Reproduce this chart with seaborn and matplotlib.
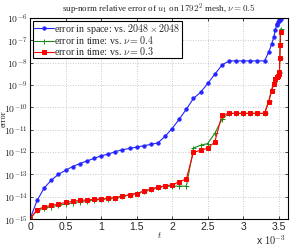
import numpy as np
import pandas as pd
import matplotlib
matplotlib.use("Agg")
import matplotlib.pyplot as plt
import seaborn as sns
from matplotlib.ticker import FixedLocator, NullLocator

# time in units of 1e-3
t = [0.0, 0.1, 0.2, 0.3, 0.4, 0.5, 0.6, 0.7, 0.8, 0.9, 1.0, 1.1, 1.2, 1.3, 1.4,
     1.5, 1.6, 1.7, 1.8, 1.9, 2.0, 2.1, 2.2, 2.3, 2.4, 2.5, 2.6, 2.7, 2.8, 2.9,
     3.0, 3.1, 3.2, 3.3, 3.36, 3.40, 3.43, 3.45, 3.47, 3.48, 3.49, 3.50, 3.51,
     3.515, 3.52, 3.525]

# log10 of errors
space_log10 = [-15.0, -14.17, -13.61, -13.26, -13.0, -12.82, -12.65, -12.52, -12.40,
               -12.29, -12.17, -12.10, -11.98, -11.90, -11.84, -11.78, -11.72, -11.66,
               -11.59, -11.30, -10.95, -10.53, -10.08, -9.60, -9.33, -8.93, -8.52,
               -8.11, -7.92, -7.92, -7.92, -7.92, -7.92, -7.92, -7.52, -7.17, -6.85,
               -6.55, -6.31, -6.25, -6.18, -6.13, -6.09, -6.07, -6.05, -6.04]
time04_log10 = [-15.0, -14.60, -14.52, -14.45, -14.39, -14.33, -14.28, -14.22, -14.19,
                -14.15, -14.12, -14.09, -14.05, -13.99, -13.92, -13.85, -13.76, -13.66,
                -13.58, -13.53, -13.53, -13.53, -13.53, -11.82, -11.70, -11.62, -11.17,
                -10.53, -10.27, -10.27, -10.27, -10.27, -10.27, -10.27, -9.70, -9.20,
                -8.85, -8.65, -8.60, -8.57, -8.53, -8.48, -8.40, -7.80, -7.10, -6.49]
time03_log10 = [-15.0, -14.58, -14.46, -14.39, -14.33, -14.26, -14.21, -14.17, -14.15,
                -14.12, -14.10, -14.07, -14.04, -13.98, -13.91, -13.86, -13.76, -13.67,
                -13.58, -13.52, -13.47, -13.34, -13.20, -12.02, -11.92, -11.83, -11.55,
                -10.35, -10.27, -10.27, -10.27, -10.27, -10.27, -10.27, -9.75, -9.25,
                -8.95, -8.72, -8.65, -8.62, -8.58, -8.52, -8.42, -7.80, -7.20, -6.61]

labels = [r"error in space: vs. $2048\times2048$",
          r"error in time: vs. $\nu=0.4$",
          r"error in time: vs. $\nu=0.3$"]
colors = ["#2424ff", "#1a8a1a", "#ff0000"]
markers = ["o", "+", "s"]
msizes = [2.4, 3.6, 2.2]

xticks = [0, 0.5, 1, 1.5, 2, 2.5, 3, 3.5]
xticklabels = ["0", "0.5", "1", "1.5", "2", "2.5", "3", "3.5"]
yexps = list(range(-15, -5))

sns.set_style("ticks")
plt.rcParams["mathtext.fontset"] = "cm"

fig = plt.figure(figsize=(2.92, 2.46), dpi=100)
ax = fig.add_axes([30/292, 1-219/246, 258/292, 201/246])

series = [space_log10, time04_log10, time03_log10]
for vals, lab, c, m, ms in zip(series, labels, colors, markers, msizes):
    df = pd.DataFrame({"t": t, "err": 10.0 ** np.array(vals)})
    sns.lineplot(data=df, x="t", y="err", ax=ax, color=c, marker=m, markersize=ms,
                 markeredgecolor=c, markeredgewidth=0.7, linewidth=0.8,
                 label=lab, estimator=None, sort=False)

ax.set_yscale("log")
ax.set_xlim(0, 3.63)
ax.set_ylim(1e-15, 1e-6)
ax.xaxis.set_major_locator(FixedLocator(xticks))
ax.set_xticklabels(xticklabels)
ax.yaxis.set_major_locator(FixedLocator([10.0 ** e for e in yexps]))
ax.yaxis.set_minor_locator(NullLocator())
ax.set_yticklabels([r"$\mathsf{10^{%d}}$" % e for e in yexps])

ax.grid(True, which="major", linestyle=(0, (1, 2)), color="0.72", linewidth=0.6)
ax.tick_params(direction="in", top=True, right=True, length=2.5, width=0.6, pad=2)
ax.tick_params(axis="x", labelsize=7.5)
ax.tick_params(axis="y", labelsize=7.0, pad=1.5)
for lbl in ax.get_xticklabels() + ax.get_yticklabels():
    lbl.set_family("Liberation Sans")
for sp in ax.spines.values():
    sp.set_color("black")
    sp.set_linewidth(0.8)

ax.set_title(r"sup-norm relative error of $u_1$ on $1792^2$ mesh, $\nu = 0.5$",
             fontsize=6.5, family="Liberation Serif", pad=4)
ax.set_xlabel(r"$t$", fontsize=6.5, labelpad=-1)
ax.set_ylabel("error", fontsize=6.0, family="Liberation Serif")
ax.yaxis.set_label_coords(-0.088, 0.5)
fig.text(286/292, 1-240/246, r"x $\mathsf{10^{-3}}$", fontsize=7.5,
         family="Liberation Sans", va="center", ha="right")

leg = ax.legend(loc="upper left", bbox_to_anchor=(0.0, 1.0),
                frameon=True, fancybox=False, borderpad=0.1, labelspacing=-0.12,
                handlelength=2.0, handletextpad=0.1, borderaxespad=0.25,
                prop={"family": "Liberation Serif", "size": 7.2})
leg.get_frame().set_edgecolor("black")
leg.get_frame().set_linewidth(0.8)
leg.get_frame().set_alpha(1.0)

fig.savefig("out.png", dpi=100)
